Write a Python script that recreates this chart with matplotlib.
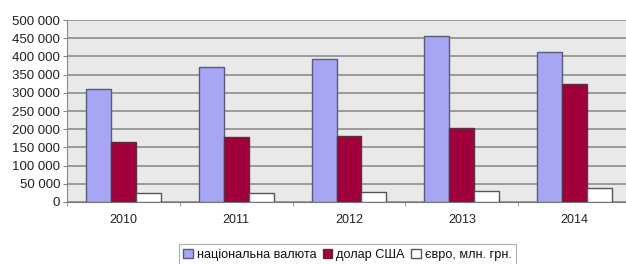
import numpy as np
import matplotlib
matplotlib.use("Agg")
import matplotlib.pyplot as plt
from matplotlib.ticker import FuncFormatter

# Data
years = ["2010", "2011", "2012", "2013", "2014"]
national = [310000, 371000, 394000, 457000, 413000]
usd = [164000, 178000, 181000, 202000, 325000]
euro = [26000, 26000, 28000, 31000, 38000]
labels = ["національна валюта", "долар США", "євро, млн. грн."]

plt.rcParams['font.family'] = ['Liberation Sans', 'DejaVu Sans']

fig = plt.figure(figsize=(6.26, 2.64), dpi=100)
ax = fig.add_axes([0.107, 0.235, 0.901, 0.689])
ax.set_facecolor('#e9e9e9')

x = np.arange(len(years))
w = 0.221
colors = ['#a6a6f5', '#a0003c', '#ffffff']
edges = ['#5a5a7a', '#5a3040', '#555555']
series = [national, usd, euro]
for i, vals in enumerate(series):
    ax.bar(x + (i - 1) * w, vals, width=w, color=colors[i], edgecolor=edges[i],
           linewidth=1.0, label=labels[i], zorder=3)

ax.set_xlim(-0.5, len(years) - 0.5)
ax.set_ylim(0, 500000)
ax.set_yticks(np.arange(0, 500001, 50000))
ax.yaxis.set_major_formatter(FuncFormatter(lambda v, p: f"{int(v):,}".replace(",", " ")))
ax.yaxis.grid(True, color='#858585', linewidth=1.1, zorder=1)

ax.set_xticks(x)
ax.set_xticklabels(years)
ax.set_xticks(np.arange(-0.5, len(years), 1), minor=True)
ax.tick_params(axis='x', which='major', length=0, pad=9, labelsize=9, colors='#222222')
ax.tick_params(axis='x', which='minor', length=3, color='#888888', direction='out')
ax.tick_params(axis='y', length=3, color='#888888', pad=2, labelsize=9.5, labelcolor='#222222')

for s in ['top', 'right']:
    ax.spines[s].set_visible(False)
ax.spines['left'].set_color('#888888')
ax.spines['bottom'].set_color('#777777')

leg = fig.legend(loc='center', bbox_to_anchor=(0.555, 0.035), ncol=3, fontsize=9.2,
                 frameon=True, fancybox=False, edgecolor='#999999',
                 handlelength=0.75, handleheight=0.75, handletextpad=0.3,
                 columnspacing=0.5, borderpad=0.35)
leg.get_frame().set_linewidth(0.8)
for t in leg.get_texts():
    t.set_color('#111111')

fig.savefig("out.png", dpi=100)
